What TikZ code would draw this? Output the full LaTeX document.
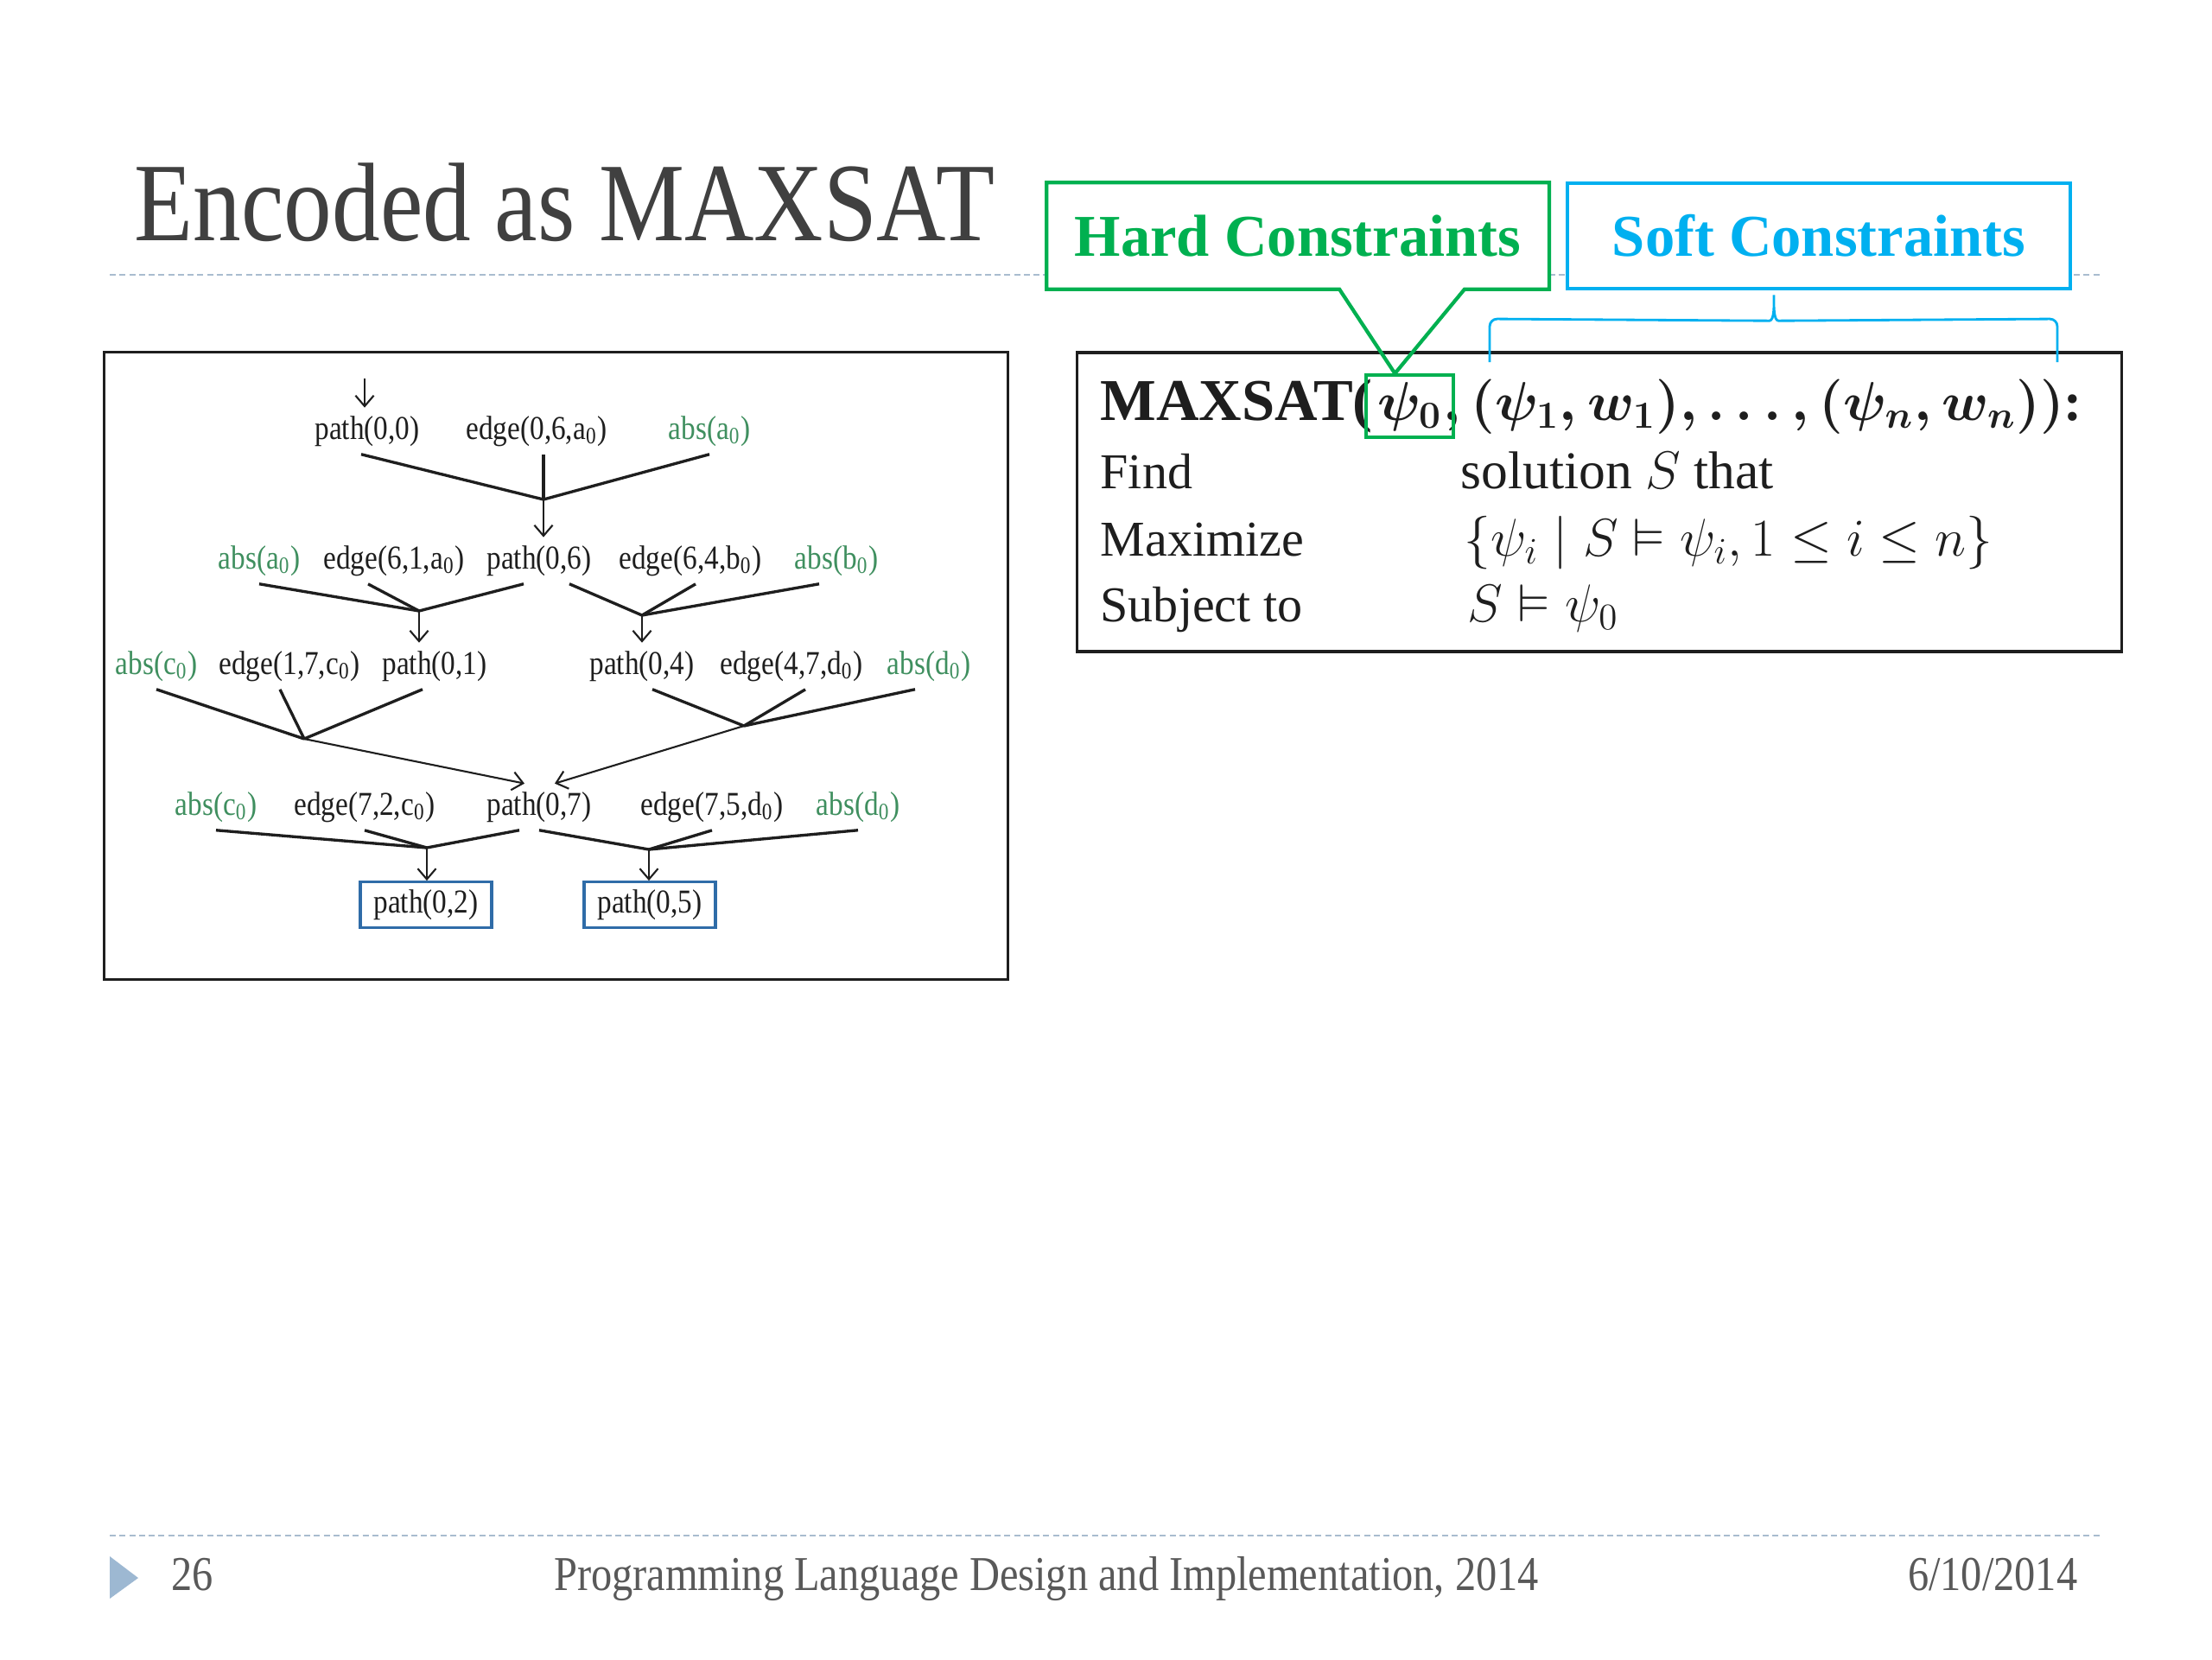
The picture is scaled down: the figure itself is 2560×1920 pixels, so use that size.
\documentclass[tikz,border=0pt]{standalone}
\usepackage{fix-cm}
\usepackage{amsmath,amssymb}
\usepackage{fontspec}
\setmainfont{Liberation Serif}
\newfontfamily\slidefont[FakeStretch=0.86]{Liberation Serif}
\usetikzlibrary{arrows.meta,positioning,calc,fit}
\definecolor{Ink}{HTML}{1E1E1E}
\definecolor{TitleGray}{HTML}{404040}
\definecolor{FootGray}{HTML}{595959}
\definecolor{RuleBlue}{HTML}{A9BCCF}
\definecolor{MarkBlue}{HTML}{9DB8D2}
\definecolor{AbsGreen}{HTML}{3F8F5F}
\definecolor{GoalBlue}{HTML}{2F6CA8}
\definecolor{HardGreen}{HTML}{00B050}
\definecolor{SoftBlue}{HTML}{00B0F0}
\tikzset{
  lit/.style={anchor=base,inner sep=2.5pt,text=Ink,font=\slidefont\fontsize{11}{13}\selectfont},
  abslit/.style={lit,text=AbsGreen},
  goal/.style={lit,anchor=center,draw=GoalBlue,line width=0.9pt,minimum width=1.52cm,minimum height=0.5cm},
  feed/.style={draw=Ink,line width=0.95pt},
  derive/.style={draw=Ink,line width=0.6pt,-{Straight Barb[length=3.5pt,width=6pt]}},
  panel/.style={draw=Ink,line width=0.95pt,inner sep=0pt},
}
\tikzset{
  fx/.style={anchor=base west,inner sep=0pt,text=Ink,font=\fontsize{16.5}{20}\selectfont},
  fxval/.style={fx,font=\fontsize{17.5}{21}\selectfont},
  fxhead/.style={fx,font=\bfseries\boldmath\fontsize{18}{22}\selectfont},
  tagbox/.style={font=\bfseries\fontsize{19.5}{23}\selectfont,minimum height=1.22cm,inner sep=0pt,fill=white},
  psimark/.style={draw=HardGreen,line width=1.2pt,inner xsep=3.5pt,inner ysep=2pt},
  hardline/.style={draw=HardGreen,line width=1.2pt},
  softbrace/.style={draw=SoftBlue,line width=0.8pt},
  slidetext/.style={anchor=base,inner sep=0pt,text=FootGray,font=\slidefont\fontsize{16}{19}\selectfont},
  sliderule/.style={draw=RuleBlue,line width=0.8pt,dash pattern=on 2pt off 1.2pt},
}

\begin{document}
\begin{tikzpicture}[x=0.01cm,y=-0.01cm]
\path[use as bounding box] (0,0) rectangle (2560,1920);
\fill[white] (0,0) rectangle (2560,1920);

\node[anchor=base west,inner sep=0pt,text=TitleGray,font=\slidefont\fontsize{36.8}{40}\selectfont] (title) at (155,278) {Encoded as MAXSAT};
\draw[sliderule] (127,318) -- (2433,318);
\draw[sliderule] (127,1777) -- (2433,1777);

% derivation tree
\node[panel,minimum width=10.45cm,minimum height=7.25cm] (treebox) at (643.5,770.5) {};
\node[lit] (path00) at (425,508) {path(0,0)};
\node[lit] (edge06) at (621,508) {edge(0,6,a\textsubscript{0})};
\node[abslit] (absa1) at (821,508) {abs(a\textsubscript{0})};

\node[abslit] (absa2) at (300,658) {abs(a\textsubscript{0})};
\node[lit] (edge61) at (456,658) {edge(6,1,a\textsubscript{0})};
\node[lit] (path06) at (624,658) {path(0,6)};
\node[lit] (edge64) at (799,658) {edge(6,4,b\textsubscript{0})};
\node[abslit] (absb) at (968,658) {abs(b\textsubscript{0})};

\node[abslit] (absc3) at (181,780) {abs(c\textsubscript{0})};
\node[lit] (edge17) at (335,780) {edge(1,7,c\textsubscript{0})};
\node[lit] (path01) at (503,780) {path(0,1)};
\node[lit] (path04) at (743,780) {path(0,4)};
\node[lit] (edge47) at (916,780) {edge(4,7,d\textsubscript{0})};
\node[abslit] (absd3) at (1075,780) {abs(d\textsubscript{0})};

\node[abslit] (absc4) at (250,943) {abs(c\textsubscript{0})};
\node[lit] (edge72) at (422,943) {edge(7,2,c\textsubscript{0})};
\node[lit] (path07) at (624,943) {path(0,7)};
\node[lit] (edge75) at (824,943) {edge(7,5,d\textsubscript{0})};
\node[abslit] (absd4) at (993,943) {abs(d\textsubscript{0})};

\node[goal] (path02) at (493,1047) {path(0,2)};
\node[goal] (path05) at (752,1047) {path(0,5)};

\coordinate (entry) at (422,438);
\coordinate (into06) at (629,578);
\coordinate (into01) at (485,707);
\coordinate (into04) at (743,712);
\coordinate (into07a) at (352,855);
\coordinate (into07b) at (861,840);
\coordinate (into02) at (494,981);
\coordinate (into05) at (751,983);

\draw[derive] (entry) -- (entry |- path00.north);
\draw[feed] ($(path00.south)+(-7,0)$) -- (into06);
\draw[feed] ($(edge06.south)+(8,0)$) -- (into06);
\draw[feed] (absa1.south) -- (into06);
\draw[derive] (into06) -- (into06 |- path06.north);

\draw[feed] (absa2.south) -- (into01);
\draw[feed] ($(edge61.south)+(-30,0)$) -- (into01);
\draw[feed] ($(path06.south)+(-18,0)$) -- (into01);
\draw[derive] (into01) -- (into01 |- path01.north);
\draw[feed] ($(path06.south)+(35,0)$) -- (into04);
\draw[feed] ($(edge64.south)+(6,0)$) -- (into04);
\draw[feed] ($(absb.south)+(-20,0)$) -- (into04);
\draw[derive] (into04) -- (into04 |- path04.north);

\draw[feed] (absc3.south) -- (into07a);
\draw[feed] ($(edge17.south)+(-11,0)$) -- (into07a);
\draw[feed] ($(path01.south)+(-14,0)$) -- (into07a);
\draw[derive] (into07a) -- ($(path07.north)+(-17,0)$);
\draw[feed] ($(path04.south)+(12,0)$) -- (into07b);
\draw[feed] ($(edge47.south)+(16,0)$) -- (into07b);
\draw[feed] ($(absd3.south)+(-16,0)$) -- (into07b);
\draw[derive] (into07b) -- ($(path07.north)+(18,0)$);

\draw[feed] (absc4.south) -- (into02);
\draw[feed] (edge72.south) -- (into02);
\draw[feed] ($(path07.south)+(-23,0)$) -- (into02);
\draw[derive] (into02) -- (into02 |- path02.north);
\draw[feed] (path07.south) -- (into05);
\draw[feed] (edge75.south) -- (into05);
\draw[feed] (absd4.south) -- (into05);
\draw[derive] (into05) -- (into05 |- path05.north);

% maxsat formulation
\node[panel,minimum width=12.08cm,minimum height=3.46cm] (formbox) at (1851,581) {};
\node[fxhead,font=\bfseries\fontsize{19.5}{22}\selectfont] (maxhead) at (1273,486) {MAXSAT(};
\node[fxhead] (psizero) at ($(maxhead.base east)+(4,0)$) {$\psi_0$};
\node[fxhead] (softargs) at (psizero.base east) {$,(\psi_1,w_1),\ldots,(\psi_n,w_n))$:};
\node[psimark,fit=(psizero)] (psibox) {};
\node[fx] (findlbl) at (1273,565) {Find};
\node[fxval] (findval) at (1690,565) {solution $S$ that};
\node[fx] (maxlbl) at (1273,643) {Maximize};
\node[fxval] (maxval) at (1694,643) {$\{\psi_i \mid S \vDash \psi_i, 1 \le i \le n\}$};
\node[fx] (subjlbl) at (1273,719) {Subject to};
\node[fxval] (subjval) at (1698,719) {$S \vDash \psi_0$};

\node[tagbox,minimum width=5.8cm,text=HardGreen] (hard) at (1502,273) {Hard Constraints};
\draw[hardline] (hard.south west) -- (hard.north west) -- (hard.north east) -- (hard.south east)
  -- ($(hard.south east)+(-98,0)$) -- ($(psibox.north)+(-17,0)$) -- ($(hard.south west)+(339,0)$) -- cycle;
\node[tagbox,minimum width=5.82cm,text=SoftBlue,draw=SoftBlue,line width=1.2pt] (soft) at (2105,273) {Soft Constraints};
\coordinate (softtip) at ($(soft.south)+(-52,0)$);
\coordinate (braceleft) at (1724,419);
\coordinate (braceright) at (2381,419);
\draw[softbrace,rounded corners=2.5pt] (braceleft) -- ++(0,-50) -- ($(softtip)+(-14,35)$) to[out=0,in=-90] (softtip)
  to[out=-90,in=180] ($(softtip)+(14,35)$) -- ($(braceright)+(0,-50)$) -- (braceright);

% footer
\fill[MarkBlue] (127,1801) -- (160,1826) -- (127,1850) -- cycle;
\node[slidetext,anchor=base west] (pagenum) at (198,1840) {26};
\node[slidetext] (venue) at (1211,1840) {Programming Language Design and Implementation, 2014};
\node[slidetext,anchor=base east] (date) at (2405,1840) {6/10/2014};
\end{tikzpicture}
\end{document}
